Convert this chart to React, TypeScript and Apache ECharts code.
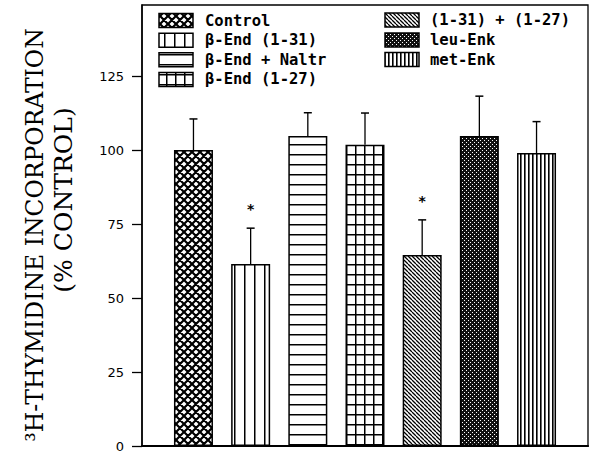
import React, { useEffect, useRef } from "react";
import * as echarts from "echarts";

const categories = [
  "Control",
  "β-End (1-31)",
  "β-End + Naltr",
  "β-End (1-27)",
  "(1-31) + (1-27)",
  "leu-Enk",
  "met-Enk",
];
const means = [100, 61.5, 104.7, 101.8, 64.5, 104.7, 99];
const sems = [10.5, 12.1, 7.9, 10.7, 11.9, 13.5, 10.6];
const significant = [false, true, false, false, true, false, false];
const yTicks = [0, 25, 50, 75, 100, 125];
const yTitle = "³H-THYMIDINE INCORPORATION";
const ySubTitle = "(% CONTROL)";

type Draw = (ctx: CanvasRenderingContext2D, w: number, h: number) => void;

function tile(w: number, h: number, draw: Draw) {
  const c = document.createElement("canvas");
  c.width = w;
  c.height = h;
  const ctx = c.getContext("2d") as CanvasRenderingContext2D;
  ctx.fillStyle = "#fff";
  ctx.fillRect(0, 0, w, h);
  ctx.fillStyle = "#000";
  ctx.strokeStyle = "#000";
  draw(ctx, w, h);
  return { image: c, repeat: "repeat" } as any;
}

function makePatterns() {
  const cross = tile(8, 8, (ctx) => {
    ctx.lineWidth = 2.2;
    ctx.beginPath();
    for (const o of [-8, 0, 8]) {
      ctx.moveTo(o, 0);
      ctx.lineTo(o + 8, 8);
    }
    for (const o of [0, 8, 16]) {
      ctx.moveTo(o, 0);
      ctx.lineTo(o - 8, 8);
    }
    ctx.stroke();
  });
  const vWide = tile(10, 10, (ctx) => ctx.fillRect(4, 0, 1.5, 10));
  const hWide = tile(10, 10, (ctx) => ctx.fillRect(0, 4, 10, 1.5));
  const grid = tile(9, 10, (ctx) => {
    ctx.fillRect(4, 0, 1.5, 10);
    ctx.fillRect(0, 4, 9, 1.5);
  });
  const diag = tile(4, 4, (ctx) => {
    ctx.lineWidth = 1.3;
    ctx.beginPath();
    for (const o of [-4, 0, 4]) {
      ctx.moveTo(o, 0);
      ctx.lineTo(o + 4, 4);
    }
    ctx.stroke();
  });
  const dots = tile(4, 4, (ctx) => {
    ctx.fillStyle = "#111";
    ctx.fillRect(0, 0, 4, 4);
    ctx.fillStyle = "#fff";
    ctx.fillRect(0, 0, 1, 1);
    ctx.fillRect(2, 2, 1, 1);
  });
  const vFine = tile(4, 4, (ctx) => ctx.fillRect(0, 0, 1.6, 4));
  return [cross, vWide, hWide, grid, diag, dots, vFine];
}

export default function App() {
  const ref = useRef<HTMLDivElement>(null);
  useEffect(() => {
    if (!ref.current) return;
    const chart = echarts.init(ref.current, null, { renderer: "svg" });
    const patterns = makePatterns();

    const legendFont = {
      fontFamily: '"DejaVu Sans Mono", monospace',
      fontWeight: "bold",
      fontSize: 15.5,
    };
    const legendItems: any[] = [];
    const col1Rows = [20.5, 40.2, 59.8, 79.4];
    const col2Rows = [20, 40, 59.5];
    categories.forEach((name, i) => {
      const inCol1 = i < 4;
      const sx = inCol1 ? 159 : 385;
      const tx = inCol1 ? 205 : 430;
      const cy = inCol1 ? col1Rows[i] : col2Rows[i - 4];
      legendItems.push({
        type: "rect",
        shape: { x: sx, y: cy - 7, width: 34, height: 14 },
        style: { fill: patterns[i], stroke: "#000", lineWidth: 1.5 },
        z: 100,
      });
      legendItems.push({
        type: "text",
        x: tx,
        y: cy,
        style: {
          text: name,
          fill: "#000",
          ...legendFont,
          textAlign: "left",
          textVerticalAlign: "middle",
          verticalAlign: "middle",
        },
        z: 100,
      });
    });

    const titleFont = {
      fontFamily: '"DejaVu Serif", serif',
      fontSize: 23.5,
      fontWeight: "normal",
    };

    const option: any = {
      animation: false,
      backgroundColor: "#fff",
      grid: {
        left: 142,
        right: 12,
        top: 5,
        bottom: 12,
        show: true,
        borderColor: "#000",
        borderWidth: 1.3,
        backgroundColor: "transparent",
      },
      xAxis: {
        type: "value",
        min: 0.1,
        max: 7.9,
        axisLine: { show: true, lineStyle: { color: "#000", width: 2.2 } },
        axisTick: { show: false },
        axisLabel: { show: false },
        splitLine: { show: false },
      },
      yAxis: {
        type: "value",
        min: 0,
        max: 149,
        interval: 25,
        axisLine: { show: true, lineStyle: { color: "#000", width: 1.5 } },
        axisTick: {
          show: true,
          length: 10,
          inside: false,
          customValues: yTicks,
          lineStyle: { color: "#000", width: 1.3 },
        },
        axisLabel: {
          show: true,
          customValues: yTicks,
          margin: 18,
          color: "#000",
          fontFamily: '"DejaVu Sans", sans-serif',
          fontSize: 13,
        },
        splitLine: { show: false },
      },
      series: [
        {
          type: "bar",
          barWidth: 39,
          data: categories.map((c, i) => ({
            name: c,
            value: [i + 1, means[i]],
            itemStyle: {
              color: patterns[i],
              borderColor: "#000",
              borderWidth: 1.5,
            },
          })),
          z: 2,
        },
        {
          type: "custom",
          z: 5,
          encode: { x: 0, y: 1 },
          data: categories.map((c, i) => [
            i + 1,
            means[i],
            sems[i],
            significant[i] ? 1 : 0,
          ]),
          renderItem: (params: any, api: any) => {
            const x = api.value(0);
            const m = api.value(1);
            const s = api.value(2);
            const sig = api.value(3);
            const top = api.coord([x, m + s]);
            const base = api.coord([x, m]);
            const children: any[] = [
              {
                type: "line",
                shape: { x1: top[0], y1: base[1], x2: top[0], y2: top[1] },
                style: { stroke: "#000", lineWidth: 1.3 },
              },
              {
                type: "line",
                shape: {
                  x1: top[0] - 4,
                  y1: top[1],
                  x2: top[0] + 4,
                  y2: top[1],
                },
                style: { stroke: "#000", lineWidth: 1.5 },
              },
            ];
            if (sig) {
              children.push({
                type: "text",
                x: top[0],
                y: top[1] - 19,
                style: {
                  text: "*",
                  fill: "#000",
                  fontFamily: '"DejaVu Sans", sans-serif',
                  fontWeight: "bold",
                  fontSize: 14,
                  textAlign: "center",
                  textVerticalAlign: "middle",
                  verticalAlign: "middle",
                },
              });
            }
            return { type: "group", children };
          },
        },
      ],
      graphic: [
        ...legendItems,
        {
          type: "text",
          x: 35,
          y: 235,
          rotation: Math.PI / 2,
          style: {
            text: yTitle,
            fill: "#000",
            ...titleFont,
            textAlign: "center",
            textVerticalAlign: "middle",
            verticalAlign: "middle",
          },
        },
        {
          type: "text",
          x: 63,
          y: 200,
          rotation: Math.PI / 2,
          style: {
            text: ySubTitle,
            fill: "#000",
            ...titleFont,
            fontSize: 25,
            textAlign: "center",
            textVerticalAlign: "middle",
            verticalAlign: "middle",
          },
        },
      ],
    };
    chart.setOption(option);
    return () => chart.dispose();
  }, []);
  return (
    <div
      ref={ref}
      style={{ position: "fixed", left: 0, top: 0, width: 600, height: 458 }}
    />
  );
}
